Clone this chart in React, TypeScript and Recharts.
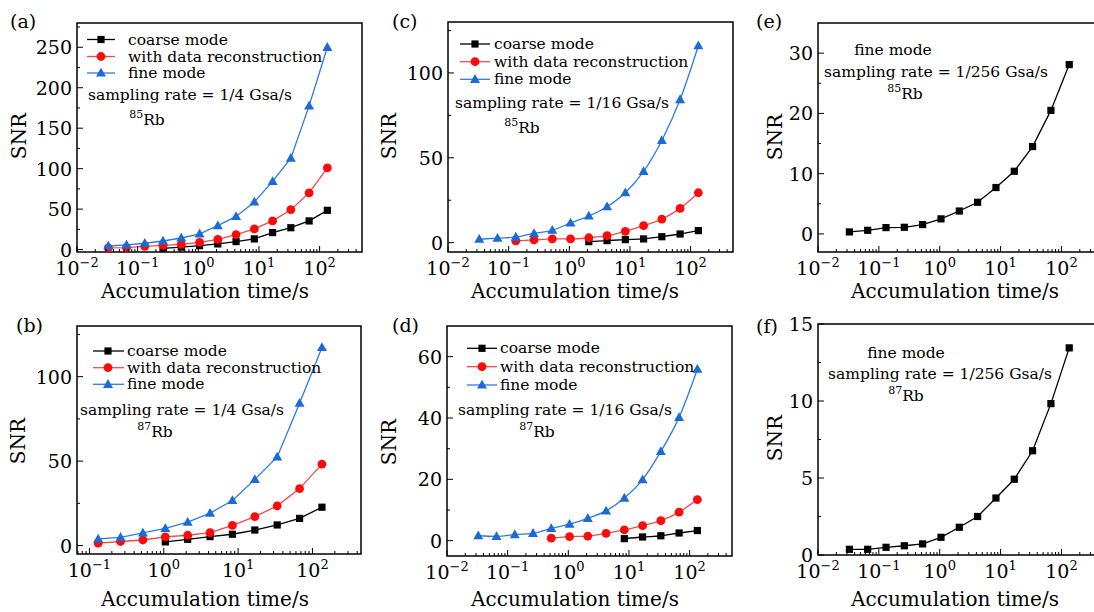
import React from 'react';
import { LineChart, Line, XAxis, YAxis, ReferenceArea } from 'recharts';

const FONT = "'DejaVu Serif', 'Liberation Serif', serif";

// accumulation times (s)
const accTime = [0.0328, 0.0655, 0.131, 0.262, 0.524, 1.049, 2.097, 4.194, 8.389, 16.78, 33.55, 67.11, 134.2];

// (a) 85Rb, 1/4 Gsa/s
const aFine = [4.4, 5.7, 7.8, 10.6, 14.3, 19.5, 29.6, 41, 58.8, 84.3, 113, 177.6, 250];
const aRecon = [2, 2.3, 4, 5.3, 6.5, 8.8, 12.5, 18.5, 25.5, 35.4, 49.3, 70, 101];
const aCoarse = [1.6, 3, 4.8, 7, 9.9, 13.2, 21, 27, 35.4, 48.5];
// (b) 87Rb, 1/4 Gsa/s
const bFine = [3.9, 4.9, 7.5, 10.2, 13.9, 19.2, 26.7, 39.2, 52.5, 84.3, 117.3];
const bRecon = [1.4, 2.4, 3.3, 5.1, 6.1, 7.6, 12, 17.1, 23.5, 33.7, 48.2];
const bCoarse = [2.2, 3.7, 5.3, 6.7, 9.2, 12.2, 16.1, 22.7];
// (c) 85Rb, 1/16 Gsa/s
const cFine = [2, 2.7, 3.3, 5.5, 7.3, 11.6, 15.7, 21.2, 29.4, 42, 60.2, 84.3, 116];
const cRecon = [1, 1.6, 2.2, 2.2, 2.9, 4.1, 6.7, 10, 13.9, 20.2, 29.4];
const cCoarse = [0.6, 1.2, 1.8, 2.2, 3.5, 5.1, 7.1];
// (d) 87Rb, 1/16 Gsa/s
const dFine = [1.6, 1.4, 2.0, 2.4, 4.0, 5.4, 7.3, 9.7, 13.9, 19.9, 29.1, 40.2, 55.9];
const dRecon = [0.8, 1.3, 1.5, 2.4, 3.5, 4.9, 6.5, 9.3, 13.4];
const dCoarse = [0.65, 1.2, 1.6, 2.5, 3.3];
// (e) 85Rb, fine mode, 1/256 Gsa/s
const eFine = [0.33, 0.6, 1.05, 1.1, 1.55, 2.5, 3.8, 5.25, 7.7, 10.4, 14.5, 20.5, 28.1];
// (f) 87Rb, fine mode, 1/256 Gsa/s
const fFine = [0.37, 0.37, 0.5, 0.6, 0.72, 1.15, 1.8, 2.5, 3.7, 4.92, 6.77, 9.83, 13.45];

const logMajorTicks = [0.01, 0.1, 1, 10, 100];
const logMinorTicks = [
  0.02, 0.03, 0.04, 0.05, 0.06, 0.07, 0.08, 0.09,
  0.2, 0.3, 0.4, 0.5, 0.6, 0.7, 0.8, 0.9,
  2, 3, 4, 5, 6, 7, 8, 9,
  20, 30, 40, 50, 60, 70, 80, 90,
  200, 300, 400,
];

const legendLabels = ['coarse mode', 'with data reconstruction', 'fine mode'];

const BLACK = '#000000';
const RED_M = '#ff0a0a';
const RED_L = '#f24a4a';
const BLUE_M = '#1b6ad6';
const BLUE_L = '#2b7be6';

function buildRows(times: number[], series: Record<string, number[]>) {
  return times.map((t, i) => {
    const row: any = { t };
    Object.keys(series).forEach((k) => {
      const arr = series[k];
      const off = times.length - arr.length;
      row[k] = i >= off ? arr[i - off] : null;
    });
    return row;
  });
}

const Square = ({ cx, cy, fill }: any) => <rect x={cx - 3.6} y={cy - 3.6} width={7.2} height={7.2} fill={fill} />;
const Circ = ({ cx, cy, fill }: any) => <circle cx={cx} cy={cy} r={4.4} fill={fill} />;
const Tri = ({ cx, cy, fill }: any) => (
  <polygon points={`${cx},${cy - 5.2} ${cx + 5},${cy + 3.6} ${cx - 5},${cy + 3.6}`} fill={fill} />
);

const dotFn = (Shape: any, fill: string) => (p: any) => {
  const k = `d${p.index}`;
  if (p.cx == null || p.cy == null || p.value == null || (Array.isArray(p.value) && p.value[1] == null)) return <g key={k} />;
  return (
    <g key={k}>
      <Shape cx={p.cx} cy={p.cy} fill={fill} />
    </g>
  );
};

const expStr = (v: number) => {
  const e = Math.round(Math.log10(v));
  return e < 0 ? `\u2212${-e}` : `${e}`;
};

type Cfg = {
  left: number; top: number; W: number; H: number; yW: number; xH: number; mTop: number; mRight: number;
  xDomain: [number, number]; yDomain: [number, number]; yMajors: number[]; yMinors: number[];
  rows: any[]; curve: any; lines: { key: string; shape: any; mc: string; lc: string }[];
};

function Panel({ cfg }: { cfg: Cfg }) {
  const { left, top, W, H, yW, xH, mTop, mRight, xDomain, yDomain, yMajors, yMinors, rows, curve, lines } = cfg;
  const plotBottom = H - xH;
  const plotLeft = yW;
  const xMaj = logMajorTicks.filter((v) => v >= xDomain[0] * 0.999 && v <= xDomain[1]);
  const xMin = logMinorTicks.filter((v) => v >= xDomain[0] && v <= xDomain[1]);
  const xTick = (p: any) => {
    const v = p.payload.value;
    const cx = p.payload.coordinate ?? p.x;
    const major = xMaj.includes(v);
    return (
      <g key={`xt${v}`}>
        <line x1={cx} x2={cx} y1={plotBottom} y2={plotBottom - (major ? 6 : 3)} stroke="#000" strokeWidth={1} />
        {major && (
          <text x={cx} y={plotBottom + 23} textAnchor="middle" fontFamily={FONT} fontSize={19} fill="#000">
            10<tspan dy={-8} fontSize={13}>{expStr(v)}</tspan>
          </text>
        )}
      </g>
    );
  };
  const yTick = (p: any) => {
    const v = p.payload.value;
    const cy = p.payload.coordinate ?? p.y;
    const major = yMajors.includes(v);
    return (
      <g key={`yt${v}`}>
        <line x1={plotLeft} x2={plotLeft + (major ? 6 : 3)} y1={cy} y2={cy} stroke="#000" strokeWidth={1} />
        {major && (
          <text x={plotLeft - 5} y={cy + 7} textAnchor="end" fontFamily={FONT} fontSize={19} fill="#000">
            {v}
          </text>
        )}
      </g>
    );
  };
  return (
    <div style={{ position: 'absolute', left, top, width: W, height: H }}>
      <LineChart width={W} height={H} data={rows} margin={{ top: mTop, right: mRight, bottom: 0, left: 0 }}>
        <XAxis
          dataKey="t" type="number" scale="log" domain={xDomain} allowDataOverflow
          ticks={[...xMaj, ...xMin]} interval={0} height={xH} axisLine={false} tickLine={false} tick={xTick}
        />
        <YAxis
          type="number" domain={yDomain} allowDataOverflow ticks={[...yMajors, ...yMinors]} interval={0}
          width={yW} axisLine={false} tickLine={false} tick={yTick}
        />
        <ReferenceArea
          x1={xDomain[0]} x2={xDomain[1]} y1={yDomain[0]} y2={yDomain[1]}
          fill="none" fillOpacity={0} stroke="#000" strokeWidth={1.5} ifOverflow="visible"
        />
        {lines.map((l) => (
          <Line
            key={l.key} dataKey={l.key} type={curve} stroke={l.lc} strokeWidth={1.3}
            dot={dotFn(l.shape, l.mc)} activeDot={false} isAnimationActive={false} connectNulls={false}
          />
        ))}
      </LineChart>
    </div>
  );
}

const threeLines = [
  { key: 'coarse', shape: Square, mc: BLACK, lc: BLACK },
  { key: 'recon', shape: Circ, mc: RED_M, lc: RED_L },
  { key: 'fine', shape: Tri, mc: BLUE_M, lc: BLUE_L },
];
const oneLine = [{ key: 'fine', shape: Square, mc: BLACK, lc: BLACK }];

const panels: Cfg[] = [
  {
    left: 0, top: 0, W: 370, H: 310, yW: 77, xH: 58, mTop: 23, mRight: 8,
    xDomain: [0.01, 500], yDomain: [-3, 280], yMajors: [0, 50, 100, 150, 200, 250], yMinors: [25, 75, 125, 175, 225, 275],
    rows: buildRows(accTime, { coarse: aCoarse, recon: aRecon, fine: aFine }), curve: 'linear', lines: threeLines,
  },
  {
    left: 370, top: 0, W: 370, H: 310, yW: 78, xH: 58, mTop: 22, mRight: 7,
    xDomain: [0.01, 500], yDomain: [-5.5, 130], yMajors: [0, 50, 100], yMinors: [25, 75, 125],
    rows: buildRows(accTime, { coarse: cCoarse, recon: cRecon, fine: cFine }), curve: 'monotone', lines: threeLines,
  },
  {
    left: 740, top: 0, W: 372, H: 310, yW: 78, xH: 58, mTop: 23, mRight: 8,
    xDomain: [0.01, 500], yDomain: [-3, 35], yMajors: [0, 10, 20, 30], yMinors: [5, 15, 25],
    rows: buildRows(accTime, { fine: eFine }), curve: 'linear', lines: oneLine,
  },
  {
    left: 0, top: 305, W: 370, H: 307, yW: 77, xH: 58, mTop: 21, mRight: 9,
    xDomain: [0.068, 450], yDomain: [-5, 130], yMajors: [0, 50, 100], yMinors: [25, 75, 125],
    rows: buildRows(accTime.slice(2), { coarse: bCoarse, recon: bRecon, fine: bFine }), curve: 'linear', lines: threeLines,
  },
  {
    left: 370, top: 305, W: 370, H: 307, yW: 77, xH: 56, mTop: 21, mRight: 8,
    xDomain: [0.01, 500], yDomain: [-5, 70], yMajors: [0, 20, 40, 60], yMinors: [10, 30, 50],
    rows: buildRows(accTime, { coarse: dCoarse, recon: dRecon, fine: dFine }), curve: 'monotone', lines: threeLines,
  },
  {
    left: 740, top: 305, W: 372, H: 307, yW: 78, xH: 57, mTop: 19, mRight: 8,
    xDomain: [0.01, 500], yDomain: [0, 15], yMajors: [0, 5, 10, 15], yMinors: [2.5, 7.5, 12.5],
    rows: buildRows(accTime, { fine: fFine }), curve: 'linear', lines: oneLine,
  },
];

const T = (props: any) => <text fontFamily={FONT} fill="#000" {...props} />;

function LegendBlock({ x1, x2, mx, tx, rows }: { x1: number; x2: number; mx: number; tx: number; rows: number[] }) {
  const shapes = [
    { S: Square, mc: BLACK, lc: BLACK },
    { S: Circ, mc: RED_M, lc: RED_L },
    { S: Tri, mc: BLUE_M, lc: BLUE_L },
  ];
  return (
    <g>
      {shapes.map((s, i) => (
        <g key={i}>
          <line x1={x1} x2={x2} y1={rows[i]} y2={rows[i]} stroke={s.lc} strokeWidth={1.3} />
          <s.S cx={mx} cy={rows[i]} fill={s.mc} />
          <T x={tx} y={rows[i] + 5} fontSize={15.5}>{legendLabels[i]}</T>
        </g>
      ))}
    </g>
  );
}

const Rb = ({ x, y, iso }: { x: number; y: number; iso: string }) => (
  <T x={x} y={y} fontSize={15.5} textAnchor="middle">
    <tspan fontSize={11} dy={-7}>{iso}</tspan>
    <tspan dy={7}>Rb</tspan>
  </T>
);

function Overlay() {
  return (
    <svg width={1094} height={612} style={{ position: 'absolute', left: 0, top: 0, pointerEvents: 'none' }}>
      <T x={10} y={28} fontSize={19}>(a)</T>
      <T x={392} y={28} fontSize={19}>(c)</T>
      <T x={756} y={28} fontSize={19}>(e)</T>
      <T x={16} y={332} fontSize={19}>(b)</T>
      <T x={392} y={332} fontSize={19}>(d)</T>
      <T x={756} y={333} fontSize={19}>(f)</T>
      <T x={26} y={136} fontSize={20} textAnchor="middle" transform="rotate(-90 26 136)">SNR</T>
      <T x={396} y={136} fontSize={20} textAnchor="middle" transform="rotate(-90 396 136)">SNR</T>
      <T x={782} y={137} fontSize={20} textAnchor="middle" transform="rotate(-90 782 137)">SNR</T>
      <T x={25} y={441} fontSize={20} textAnchor="middle" transform="rotate(-90 25 441)">SNR</T>
      <T x={396} y={442} fontSize={20} textAnchor="middle" transform="rotate(-90 396 442)">SNR</T>
      <T x={782} y={438} fontSize={20} textAnchor="middle" transform="rotate(-90 782 438)">SNR</T>
      <T x={205} y={298} fontSize={20} textAnchor="middle">Accumulation time/s</T>
      <T x={575} y={298} fontSize={20} textAnchor="middle">Accumulation time/s</T>
      <T x={955} y={298} fontSize={20} textAnchor="middle">Accumulation time/s</T>
      <T x={205} y={606} fontSize={20} textAnchor="middle">Accumulation time/s</T>
      <T x={575} y={606} fontSize={20} textAnchor="middle">Accumulation time/s</T>
      <T x={955} y={606} fontSize={20} textAnchor="middle">Accumulation time/s</T>
      <LegendBlock x1={87} x2={115} mx={101} tx={128} rows={[39.5, 56.5, 73]} />
      <LegendBlock x1={460} x2={490} mx={475} tx={494} rows={[44, 61.7, 79.3]} />
      <LegendBlock x1={93} x2={124} mx={108} tx={127} rows={[351, 367.7, 384.3]} />
      <LegendBlock x1={467} x2={497} mx={482} tx={500} rows={[348.3, 366.7, 385]} />
      <T x={190} y={100} fontSize={15.5} textAnchor="middle">sampling rate = 1/4 Gsa/s</T>
      <Rb x={147} y={125} iso="85" />
      <T x={562} y={108} fontSize={15.5} textAnchor="middle">sampling rate = 1/16 Gsa/s</T>
      <Rb x={522} y={133} iso="85" />
      <T x={893} y={55} fontSize={15.5} textAnchor="middle">fine mode</T>
      <T x={936} y={77} fontSize={15.5} textAnchor="middle">sampling rate = 1/256 Gsa/s</T>
      <Rb x={905} y={99} iso="85" />
      <T x={182} y={415} fontSize={15.5} textAnchor="middle">sampling rate = 1/4 Gsa/s</T>
      <Rb x={155} y={437} iso="87" />
      <T x={565} y={415} fontSize={15.5} textAnchor="middle">sampling rate = 1/16 Gsa/s</T>
      <Rb x={537} y={437} iso="87" />
      <T x={906} y={358} fontSize={15.5} textAnchor="middle">fine mode</T>
      <T x={940} y={379} fontSize={15.5} textAnchor="middle">sampling rate = 1/256 Gsa/s</T>
      <Rb x={906} y={401} iso="87" />
    </svg>
  );
}

export default function App() {
  return (
    <div style={{ position: 'absolute', left: 0, top: 0, width: 1094, height: 612, overflow: 'hidden', background: '#fff' }}>
      {panels.map((p, i) => (
        <Panel key={i} cfg={p} />
      ))}
      <Overlay />
    </div>
  );
}
